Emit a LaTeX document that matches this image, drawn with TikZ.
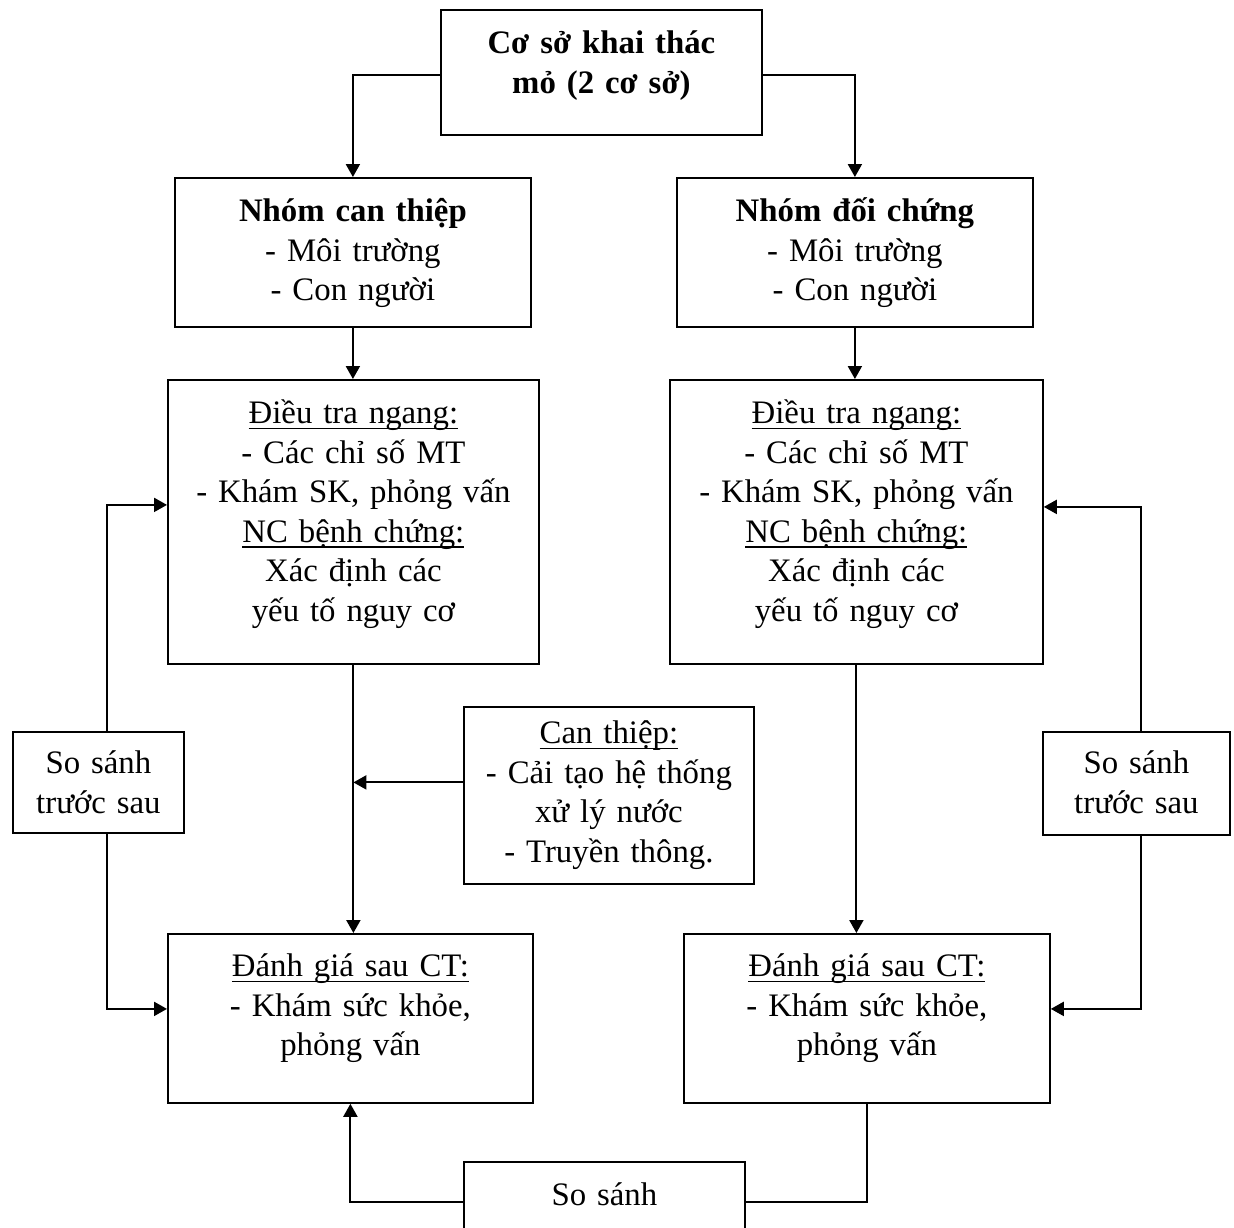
\documentclass[tikz,border=0pt]{standalone}
\usepackage{fontspec}
\setmainfont{Liberation Serif}
\usepackage{tikz}
\usetikzlibrary{arrows.meta}
\newcommand{\gachchan}[1]{\leavevmode\setbox0\hbox{#1}\rlap{\rule[-5.5pt]{\wd0}{1.8pt}}\box0}
\newcommand{\chu}{\fontsize{32.8pt}{39.5pt}\selectfont}
\tikzset{x=1pt, y=-1pt,
	khung/.style={
		draw,
		line width=1.8pt,
		inner sep=0pt,
		align=center,
		anchor=north west},
	noi/.style={
		draw,
		line width=2.1pt},
	>={Triangle[length=13pt,width=14pt]}
}

\begin{document}
\begin{tikzpicture}[font=\chu]
	\useasboundingbox (0,0) rectangle (1234,1227);
	\clip (0,0) rectangle (1234,1227);
	% cac khung
	\node[khung, font=\chu\bfseries, text width=321pt, text height=44pt, text depth=81pt] (coso) at (440,9) {Cơ sở khai thác\\mỏ (2 cơ sở)};
	\node[khung, text width=356pt, text height=44pt, text depth=105pt] (nhomCT) at (174,177) {\textbf{Nhóm can thiệp}\\- Môi trường\\- Con người};
	\node[khung, text width=356pt, text height=44pt, text depth=105pt] (nhomDC) at (676,177) {\textbf{Nhóm đối chứng}\\- Môi trường\\- Con người};
	\node[khung, text width=371pt, text height=44pt, text depth=240pt] (dtL) at (167,379) {\gachchan{Điều tra ngang:}\\- Các chỉ số MT\\- Khám SK, phỏng vấn\\\gachchan{NC bệnh chứng:}\\Xác định các\\yếu tố nguy cơ};
	\node[khung, text width=373pt, text height=44pt, text depth=240pt] (dtR) at (669,379) {\gachchan{Điều tra ngang:}\\- Các chỉ số MT\\- Khám SK, phỏng vấn\\\gachchan{NC bệnh chứng:}\\Xác định các\\yếu tố nguy cơ};
	\node[khung, text width=290pt, text height=37pt, text depth=140pt] (canthiep) at (463,706) {\gachchan{Can thiệp:}\\- Cải tạo hệ thống\\xử lý nước\\- Truyền thông.};
	\node[khung, text width=171pt, text height=42pt, text depth=59pt] (ssL) at (12,731) {So sánh\\trước sau};
	\node[khung, text width=187pt, text height=42pt, text depth=61pt] (ssR) at (1042,731) {So sánh\\trước sau};
	\node[khung, text width=365pt, text height=43pt, text depth=126pt] (dgL) at (167,933) {\gachchan{Đánh giá sau CT:}\\- Khám sức khỏe,\\phỏng vấn};
	\node[khung, text width=366pt, text height=43pt, text depth=126pt] (dgR) at (683,933) {\gachchan{Đánh giá sau CT:}\\- Khám sức khỏe,\\phỏng vấn};
	\node[khung, text width=281pt, text height=44pt, text depth=37pt] (ssB) at (463,1161) {So sánh};
	% diem phu
	\coordinate (ctra) at ([yshift=13pt]canthiep.west);
	\coordinate (ssLx) at ([xshift=9pt]ssL.north);
	\coordinate (ssRx) at ([xshift=4.5pt]ssR.north);
	% mui ten
	\draw[noi, ->] ([yshift=-3pt]coso.west) -| (nhomCT.north);
	\draw[noi, ->] ([yshift=-3pt]coso.east) -| (nhomDC.north);
	\draw[noi, ->] (nhomCT.south) -- (nhomCT.south |- dtL.north);
	\draw[noi, ->] (nhomDC.south) -- (nhomDC.south |- dtR.north);
	\draw[noi, ->] (dtL.south) -- (dtL.south |- dgL.north);
	\draw[noi, ->] (dtR.south) -- (dtR.south |- dgR.north);
	\draw[noi, ->] (ctra) -- (ctra -| dtL.south);
	\draw[noi, ->] (ssLx) |- ([yshift=17pt]dtL.west);
	\draw[noi, ->] (ssLx |- ssL.south) |- ([yshift=9.5pt]dgL.west);
	\draw[noi, ->] (ssRx) |- ([yshift=15pt]dtR.east);
	\draw[noi, ->] (ssRx |- ssR.south) |- ([yshift=9.5pt]dgR.east);
	\draw[noi, ->] (ssB.west) -| (dgL.south);
	\draw[noi] (ssB.east) -| (dgR.south);
\end{tikzpicture}
\end{document}
